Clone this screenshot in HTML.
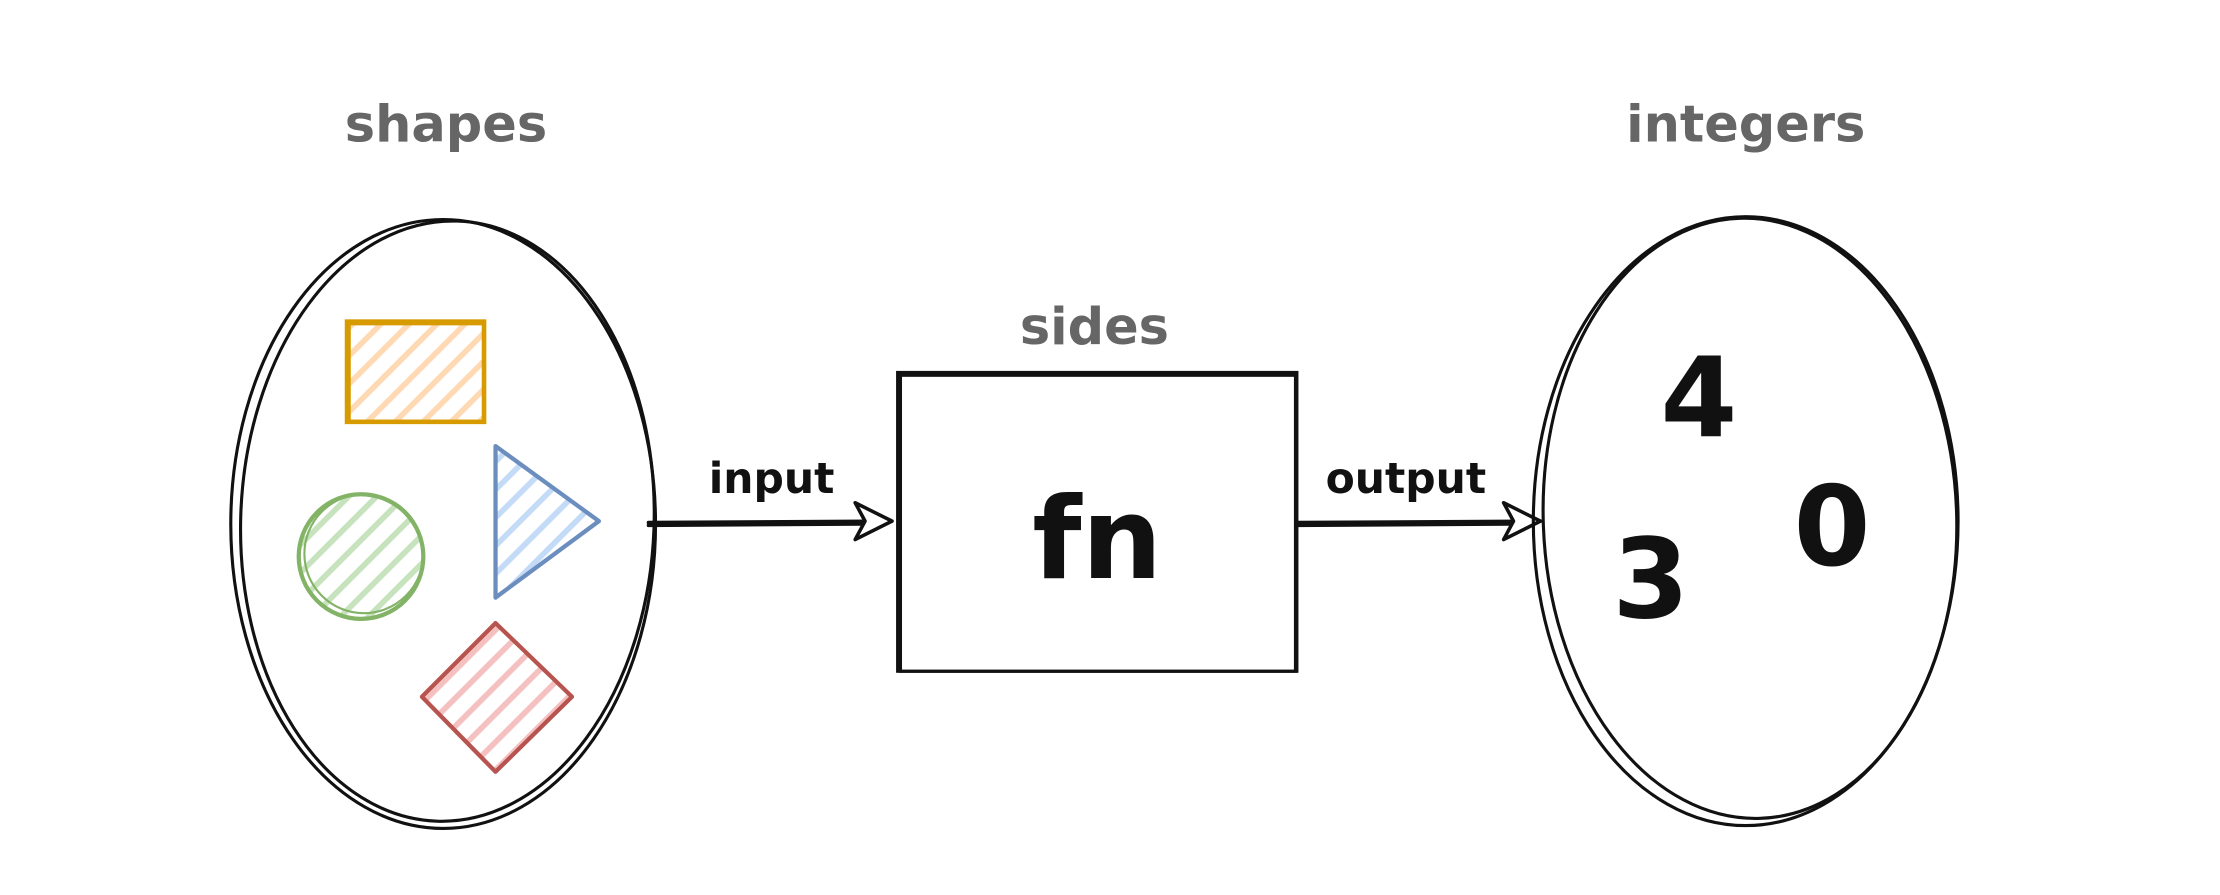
<!DOCTYPE html>
<html><head><meta charset="utf-8"><style>
html,body{margin:0;padding:0;background:#fff;}
svg{display:block;}
text{font-family:"DejaVu Sans","Liberation Sans",sans-serif;}
</style></head><body>
<svg width="2220" height="895" viewBox="0 0 1568 632" preserveAspectRatio="none" xmlns="http://www.w3.org/2000/svg">
<defs>
<pattern id="hO" width="14" height="14" patternUnits="userSpaceOnUse" patternTransform="rotate(45)"><rect width="14" height="14" fill="#fff"/><rect width="4" height="14" fill="#ffd9b3"/></pattern>
<pattern id="hG" width="14" height="14" patternUnits="userSpaceOnUse" patternTransform="rotate(45)"><rect width="14" height="14" fill="#fff"/><rect width="4" height="14" fill="#c6e3bd"/></pattern>
<pattern id="hB" width="14" height="14" patternUnits="userSpaceOnUse" patternTransform="rotate(45)"><rect width="14" height="14" fill="#fff"/><rect width="4" height="14" fill="#c4dbf7"/></pattern>
<pattern id="hR" width="14" height="14" patternUnits="userSpaceOnUse" patternTransform="rotate(45)"><rect width="14" height="14" fill="#fff"/><rect width="4" height="14" fill="#f5c0c0"/></pattern>
</defs>
<rect width="1568" height="632" fill="#fff"/>

<text x="315" y="100" font-size="36" font-weight="bold" fill="#666" text-anchor="middle">shapes</text>
<g fill="none" stroke="#111" stroke-width="2.2">
<ellipse cx="313" cy="370" rx="150" ry="215"/>
<ellipse cx="316" cy="368" rx="146" ry="212" transform="rotate(2 316 368)"/>
</g>
<g>
<rect x="245" y="227" width="97" height="71" fill="url(#hO)" stroke="#d79b00" stroke-width="3"/>
<rect x="247" y="229" width="94" height="68" fill="none" stroke="#d79b00" stroke-width="1.5"/>
</g>
<g>
<circle cx="255" cy="393" r="44" fill="url(#hG)" stroke="#82b366" stroke-width="3"/>
<circle cx="257" cy="391" r="42" fill="none" stroke="#82b366" stroke-width="1.5"/>
</g>
<g>
<polygon points="350,315 423,368 350,422" fill="url(#hB)" stroke="#6c8ebf" stroke-width="3" stroke-linejoin="round"/>
</g>
<g>
<polygon points="350,440 404,492 350,545 298,492" fill="url(#hR)" stroke="#b85450" stroke-width="3" stroke-linejoin="round"/>
</g>

<g stroke="#111" stroke-width="2.5" fill="none" stroke-linecap="round" stroke-linejoin="round">
<path d="M458 369 L630 368"/>
<path d="M458 371 L610 370"/>
<path d="M604 355 L630 368 L604 381 L611 368 Z" fill="#fff"/>
</g>
<text x="545" y="348" font-size="30" font-weight="bold" fill="#111" text-anchor="middle">input</text>

<text x="773" y="243" font-size="36" font-weight="bold" fill="#666" text-anchor="middle">sides</text>
<g fill="none" stroke="#111" stroke-width="2.2">
<rect x="634" y="263" width="282" height="211"/>
<rect x="636" y="265" width="279" height="209"/>
</g>
<text x="775" y="408" font-size="80" font-weight="bold" fill="#111" text-anchor="middle">fn</text>

<g stroke="#111" stroke-width="2.5" fill="none" stroke-linecap="round" stroke-linejoin="round">
<path d="M916 369 L1088 368"/>
<path d="M916 371 L1068 370"/>
<path d="M1062 355 L1088 368 L1062 381 L1069 368 Z" fill="#fff"/>
</g>
<text x="993" y="348" font-size="30" font-weight="bold" fill="#111" text-anchor="middle">output</text>

<text x="1233" y="100" font-size="36" font-weight="bold" fill="#666" text-anchor="middle">integers</text>
<g fill="none" stroke="#111" stroke-width="2.2">
<ellipse cx="1233" cy="368" rx="150" ry="215"/>
<ellipse cx="1236" cy="366" rx="146" ry="212" transform="rotate(-2 1236 366)"/>
</g>
<text x="1200" y="308" font-size="78" font-weight="bold" fill="#111" text-anchor="middle">4</text>
<text x="1166" y="436" font-size="78" font-weight="bold" fill="#111" text-anchor="middle">3</text>
<text x="1294" y="399" font-size="78" font-weight="bold" fill="#111" text-anchor="middle">0</text>
</svg>
</body></html>
